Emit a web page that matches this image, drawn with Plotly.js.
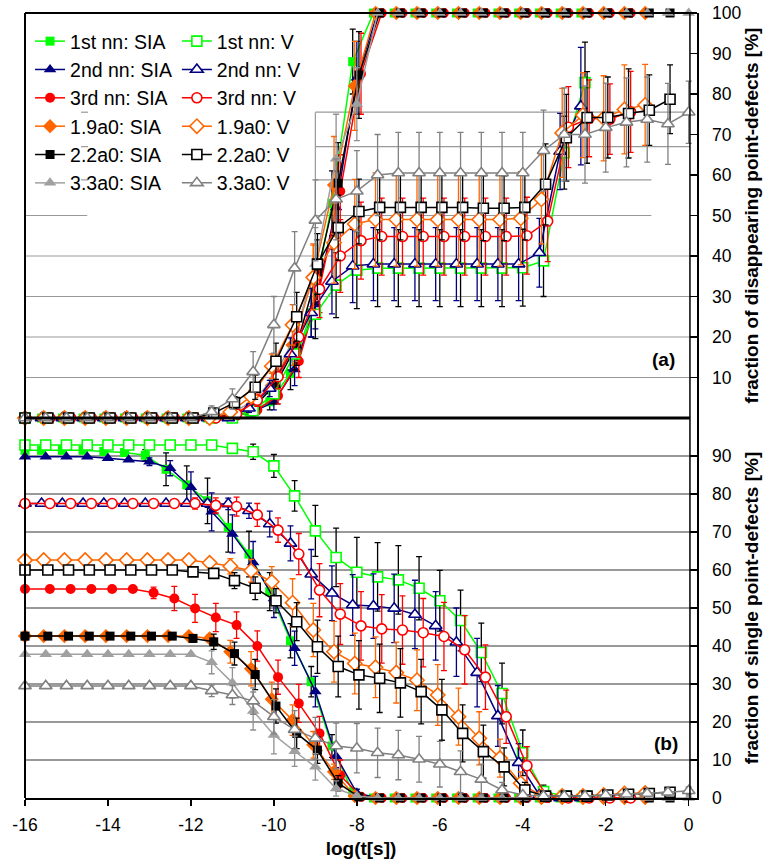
<!DOCTYPE html>
<html><head><meta charset="utf-8">
<script src="https://cdn.plot.ly/plotly-3.0.1.min.js"></script>
<style>html,body{margin:0;padding:0;background:#fff}#chart{width:768px;height:859px}</style>
</head><body><div id="chart"></div>
<script>
// ---------- x positions (log t) for each series group ----------
const X0   = [-16,-15.5,-15,-14.5,-14,-13.5,-13,-12.5,-12,-11.5,-11,-10.5,-10,-9.5,-9,-8.5,-8,-7.5,-7,-6.5,-6,-5.5,-5,-4.5,-4,-3.5,-3,-2.5,-2,-1.5,-1,-0.5,0];
const XM10 = [-16,-15.6,-15.1,-14.6,-14.1,-13.6,-13.1,-12.6,-12.1,-11.6,-11.1,-10.6,-10.1,-9.6,-9.1,-8.6,-8.1,-7.6,-7.1,-6.6,-6.1,-5.6,-5.1,-4.6,-4.1,-3.6,-3.1,-2.6];
const XP10 = [-16,-15.4,-14.9,-14.4,-13.9,-13.4,-12.9,-12.4,-11.9,-11.4,-10.9,-10.4,-9.9,-9.4,-8.9,-8.4,-7.9,-7.4,-6.9,-6.4,-5.9,-5.4,-4.9,-4.4,-3.9,-3.4,-2.9,-2.4,-1.9,-1.4];
const XM05 = [-16,-15.55,-15.05,-14.55,-14.05,-13.55,-13.05,-12.55,-12.05,-11.55,-11.05,-10.55,-10.05,-9.55,-9.05,-8.55,-8.05,-7.55,-7.05,-6.55,-6.05,-5.55,-5.05,-4.55,-4.05,-3.55,-3.05,-2.55,-2.05,-1.55,-1.05];
const XP05 = [-16,-15.45,-14.95,-14.45,-13.95,-13.45,-12.95,-12.45,-11.95,-11.45,-10.95,-10.45,-9.95,-9.45,-8.95,-8.45,-7.95,-7.45,-6.95,-6.45,-5.95,-5.45,-4.95,-4.45,-3.95,-3.45,-2.95,-2.45,-1.95,-1.45,-0.95,-0.45];

const XTICKS = [-16,-14,-12,-10,-8,-6,-4,-2,0];
const XTICKTEXT = ['-16','-14','-12','-10','-8','-6','-4','-2','0'];
const YTICKS_A = [10,20,30,40,50,60,70,80,90,100];
const YTICKS_B = [0,10,20,30,40,50,60,70,80,90];

const NAMES_SIA = ['1st nn: SIA','2nd nn: SIA','3rd nn: SIA','1.9a0: SIA','2.2a0: SIA','3.3a0: SIA'];
const NAMES_V   = ['1st nn: V','2nd nn: V','3rd nn: V','1.9a0: V','2.2a0: V','3.3a0: V'];

// ---------- panel (a): fraction of disappearing point-defects ----------
const A_SIA1 = [0,0,0,0,0,0,0,0,0,0,0.5,1.5,4,11,26,53,88,100,100,100,100,100,100,100,100,100,100,100];
const A_SIA2 = [0,0,0,0,0,0,0,0,0,0,0.5,1.5,4,12,28,52,84,100,100,100,100,100,100,100,100,100,100,100];
const A_SIA3 = [0,0,0,0,0,0,0,0,0,0,0.5,2,5.5,14,32,56,85,100,100,100,100,100,100,100,100,100,100,100,100,100];
const A_SIA4 = [0,0,0,0,0,0,0,0,0,0,1,3,8,18,35,57.5,82,100,100,100,100,100,100,100,100,100,100,100,100,100,100];
const A_SIA5 = [0,0,0,0,0,0,0,0,0,0,1,3,8.5,18,36,58,84.7,100,100,100,100,100,100,100,100,100,100,100,100,100,100,100];
const A_SIA6 = [0,0,0,0,0,0,0,0,0,0.5,1.5,4,10,20,38,64,77.5,100,100,100,100,100,100,100,100,100,100,100,100,100,100,100,100];

const A_V1 = [0,0,0,0,0,0,0,0,0,0,0,1.8,6,15.8,25.6,32.8,36.5,37,37,37,37,37,37,37,37.1,38.8,65.5,82.8];
const A_V2 = [0,0,0,0,0,0,0,0,0,0,0,2.4,7.3,15.8,26,33.7,37.5,38,38,38,38,38,38,38,38,40.8,65.8,77];
const A_V3 = [0,0,0,0,0,0,0,0,0,0,1,4.4,10.2,20,31.8,40,43.8,44.8,44.8,44.8,44.8,44.8,44.8,44.8,45,48.6,71.8,74,73.8,75.6];
const A_V4 = [0,0,0,0,0,0,0,0,0,0,1.5,5.3,12.8,23,34.7,43.3,47.9,49,49,49,49,49,49,49,49.3,54,70.4,74.8,74,76.2,77.3];
const A_V5 = [0,0,0,0,0,0,0,0,0,1.2,3.8,7.6,14,25,38,47,51,52,52,52,52,52,51.8,51.8,52,57.7,69.2,74.2,74.2,75.2,76,78.7];
const A_V6 = [0,0,0,0,0,0,0,0,0,1.5,4.7,11.4,23,37,48.8,54,56,60,60.5,60.5,60.5,60.5,60.5,60.5,60.5,66,70,70,71.7,73,73.7,72.6,75.5];

const AE_SIA1 = [0,0,0,0,0,0,0,0,0,0,0.5,1,2,4,6,8,8,0,0,0,0,0,0,0,0,0,0,0];
const AE_SIA2 = [0,0,0,0,0,0,0,0,0,0,0.5,1,2,4,6,9,9,0,0,0,0,0,0,0,0,0,0,0];
const AE_SIA3 = [0,0,0,0,0,0,0,0,0,0,0.5,1,2,4,6,9,10,0,0,0,0,0,0,0,0,0,0,0,0,0];
const AE_SIA4 = [0,0,0,0,0,0,0,0,0,0,0.5,1.5,3,5,8,12,11,0,0,0,0,0,0,0,0,0,0,0,0,0,0];
const AE_SIA5 = [0,0,0,0,0,0,0,0,0,0,0.5,1.5,3,5,8,10,10.7,0,0,0,0,0,0,0,0,0,0,0,0,0,0,0];
const AE_SIA6 = [0,0,0,0,0,0,0,0,0,0.5,1,2,4,6,9,11,9,0,0,0,0,0,0,0,0,0,0,0,0,0,0,0,0];

const AE_V1 = [0,0,0,0,0,0,0,0,0,0,0,1,2.5,4,6,8,9.5,9.5,9.5,9.5,9.5,9.5,9.5,9.5,9.5,8.8,9,10];
const AE_V2 = [0,0,0,0,0,0,0,0,0,0,0,1,2,4,6,8,9,9,9,9,9,9,9,9,9,8.5,9.4,14.5];
const AE_V3 = [0,0,0,0,0,0,0,0,0,0,0.5,1.5,3,5,7,9,9.5,9.5,9.5,9.5,9.5,9.5,9.5,9.5,9.5,10,10,9.5,8.7,10];
const AE_V4 = [0,0,0,0,0,0,0,0,0,0,0.5,1.5,3,5,8,10,11,11.5,11.5,11.5,11.5,11.5,11.5,11.5,11.5,11,11,10.5,10.5,11,10];
const AE_V5 = [0,0,0,0,0,0,0,0,0,0.5,1.5,3,4.5,6,7.5,8,8,8,8,8,8,8,8,8,8,10,10.7,11.3,10,11,8.7,8.5];
const AE_V6 = [0,0,0,0,0,0,0,0,0,1.5,2.5,5,7,9,10,10,10,10,10,10,10,10,10,10,10,10,11.5,12,11,11,10.5,10,7.7];

// ---------- panel (b): fraction of single point-defects ----------
const B_SIA1 = [91.5,91.5,91.5,91.5,91.2,90.9,90.2,86.5,82.4,78.2,71.2,64.2,54.3,41.4,30.6,13.7,1.5,0,0,0,0,0,0,0,0,0,0,0];
const B_SIA2 = [89.8,89.8,89.8,89.8,89.4,89,88.5,86.8,81.8,75.3,69.5,62,52.5,39.4,28,11,1.3,0,0,0,0,0,0,0,0,0,0,0];
const B_SIA3 = [55,55,55,55,55,55,54,52.5,49.9,47.5,45.5,40,31.8,24.9,17,6,0.3,0,0,0,0,0,0,0,0,0,0,0,0,0];
const B_SIA4 = [42.6,42.6,42.6,42.6,42.6,42.6,42.6,42.6,42.6,42,38.5,34,26,20.5,14,6.9,0.5,0,0,0,0,0,0,0,0,0,0,0,0,0,0];
const B_SIA5 = [42.6,42.6,42.6,42.6,42.6,42.6,42.6,42.6,42,41.1,38,32.5,24.2,17,12.6,3.9,0.3,0,0,0,0,0,0,0,0,0,0,0,0,0,0,0];
const B_SIA6 = [37.8,37.8,37.8,37.8,37.8,37.8,37.8,37.8,37.8,35.7,30.3,22.9,16.6,12.3,8.2,2.5,0.5,0,0,0,0,0,0,0,0,0,0,0,0,0,0,0,0];

const B_V1 = [92.9,92.9,92.9,92.9,92.9,92.9,92.9,92.9,92.9,92.9,92,91.1,87.4,79.5,70.3,63.3,59.4,58.2,57.4,55.2,51.9,46.7,38.3,27.5,11.9,1.7,0.5,0.5];
const B_V2 = [77.5,77.5,77.5,77.5,77.5,77.5,77.5,77.5,77.5,77.5,77.4,75.6,72.1,67,58.9,53.9,50.8,50.5,49.9,48.3,45.3,41,33,21.6,9.3,0.8,0,0];
const B_V3 = [77.5,77.5,77.5,77.5,77.5,77.5,77.5,77.5,77.5,77,76.7,74.5,70.5,64.2,54.7,48.4,45.3,44.5,44.2,43.5,42.5,39,31.8,21.4,8.5,0.3,0,0,0,0];
const B_V4 = [62.6,62.6,62.6,62.6,62.6,62.6,62.6,62.6,62.6,61.9,61,59.8,56.9,51.4,44.2,38.5,35.4,34.4,33,31,27.1,21.4,15.7,10.5,3.9,0.5,0.5,0.5,0.8,1.2,1.3];
const B_V5 = [60,60,60,60,60,60,60,60,59.5,59.1,57.2,55.2,51.9,46.4,39.8,34.6,32.4,31.5,30.3,28,23.2,17,12.2,8.2,2.1,0.5,0.5,0.5,0.8,1,1.2,1.5];
const B_V6 = [29.5,29.5,29.5,29.5,29.5,29.5,29.5,29.5,29.5,28.2,27.1,25.5,21.4,18,15.7,13.7,13.1,11.9,11.3,10.2,8.9,6.9,4.9,2.1,0.8,0.5,0.5,0.5,0.8,1,1.2,1.5,1.9];

const BE_SIA1 = [0,0,0,0,0,0.5,1.5,4.3,5,6,6.5,6,5,4.5,4,3,1,0,0,0,0,0,0,0,0,0,0,0];
const BE_SIA2 = [0,0,0,0,0,0,1,2,4,5,5,5.5,5,4.5,4,3,1,0,0,0,0,0,0,0,0,0,0,0];
const BE_SIA3 = [0,0,0,0,0,0,1.5,3.2,3.7,3.7,3.5,4,4.5,5,4.5,4,0.5,0,0,0,0,0,0,0,0,0,0,0,0,0];
const BE_SIA4 = [0,0,0,0,0,0,0,0,0,1,3,4.5,4.5,4,3.5,2,0.5,0,0,0,0,0,0,0,0,0,0,0,0,0,0];
const BE_SIA5 = [0,0,0,0,0,0,0,0,1,2,3,4,4.5,4,3.5,2,0.3,0,0,0,0,0,0,0,0,0,0,0,0,0,0,0];
const BE_SIA6 = [0,0,0,0,0,0,0,0,0,3,4,5,5,4,3.5,2,0.5,0,0,0,0,0,0,0,0,0,0,0,0,0,0,0,0];

const BE_V1 = [0,0,0,0,0,0,0,0,0,0,1,2,3,4,6.7,7.7,9.2,9,9,8.3,8,8,7.7,8,6,1.7,0,0];
const BE_V2 = [0,0,0,0,0,0,0,0,0,1,1.5,2,3.4,4.6,6.5,7.2,8,8.5,9,9,9,9,9,8,5,0.5,0,0];
const BE_V3 = [0,0,0,0,0,0,0,0,1.5,2,2.5,3,3.2,5.4,7,8,9,9,9,9,9,9,8.5,7,5,0.5,0,0,0,0];
const BE_V4 = [0,0,0,0,0,0,0,0,0,1,2,3,4,6.3,7,8,8,8,8,8,8,7.5,7,5,3,0.5,0.5,0.5,0.5,0.8,0.8];
const BE_V5 = [0,0,0,0,0,0,0,0,0.5,1,2.1,3,3.2,5,7,8,9,9,9,8.5,8,7.5,7,5,2,0.3,0.3,0.3,0.5,0.5,0.8,1];
const BE_V6 = [0,0,0,0,0,0,0,0,0,1.5,2.5,3.5,4.5,5,5.5,6,6.5,6.5,6.5,6,6,5.5,4,2,0.5,0.3,0.3,0.3,0.5,0.5,0.8,0.8,1];

// ---------- styles ----------
const STY_SIA = [
  {x:XM10, line:'#00ff00', fill:'#00ff00', sym:'square', size:9, err:'#000000'},
  {x:X0,   line:'#000080', fill:'#000080', sym:'triangle-up', size:11, err:'#000080'},
  {x:XP10, line:'#ff0000', fill:'#ff0000', sym:'circle', size:10, err:'#ff0000'},
  {x:XM05, line:'#ff6600', fill:'#ff6600', sym:'diamond', size:11, err:'#ff6600'},
  {x:XP05, line:'#000000', fill:'#000000', sym:'square', size:9, err:'#000000'},
  {x:X0,   line:'#a0a0a0', fill:'#a0a0a0', sym:'triangle-up', size:11, err:'#909090'}
];
const STY_V = [
  {x:X0,   line:'#00ff00', sym:'square', size:10, err:'#000000'},
  {x:XM10, line:'#000080', sym:'triangle-up', size:11, err:'#000080'},
  {x:XP10, line:'#ff0000', sym:'circle', size:10, err:'#ff0000'},
  {x:XM05, line:'#ff6600', sym:'diamond', size:11, err:'#ff6600'},
  {x:XP05, line:'#000000', sym:'square', size:10, err:'#000000'},
  {x:X0,   line:'#808080', sym:'triangle-up', size:11, err:'#808080'}
];

function mk(name, st, y, e, open, panel, legendId, show) {
  return {
    type:'scatter', mode:'lines+markers', name:name,
    x: st.x.slice(0, y.length), y: y,
    xaxis: panel === 'a' ? 'x2' : 'x', yaxis: panel === 'a' ? 'y' : 'y2',
    legend: legendId, showlegend: show, cliponaxis:false,
    line:{color: st.line, width:1.5},
    marker:{symbol: st.sym, size: st.size, color: open ? '#ffffff' : st.fill,
            line:{color: st.line, width: open ? 1.6 : 0}},
    error_y:{type:'data', array:e, visible:true, color:st.err, thickness:1.3, width:3}
  };
}

const A_SIA = [A_SIA1,A_SIA2,A_SIA3,A_SIA4,A_SIA5,A_SIA6];
const A_V = [A_V1,A_V2,A_V3,A_V4,A_V5,A_V6];
const AE_SIA = [AE_SIA1,AE_SIA2,AE_SIA3,AE_SIA4,AE_SIA5,AE_SIA6];
const AE_V = [AE_V1,AE_V2,AE_V3,AE_V4,AE_V5,AE_V6];
const B_SIA = [B_SIA1,B_SIA2,B_SIA3,B_SIA4,B_SIA5,B_SIA6];
const B_V = [B_V1,B_V2,B_V3,B_V4,B_V5,B_V6];
const BE_SIA = [BE_SIA1,BE_SIA2,BE_SIA3,BE_SIA4,BE_SIA5,BE_SIA6];
const BE_V = [BE_V1,BE_V2,BE_V3,BE_V4,BE_V5,BE_V6];

const traces = [];
for (let i=0;i<6;i++) traces.push(mk(NAMES_SIA[i], STY_SIA[i], A_SIA[i], AE_SIA[i], false, 'a', 'legend', true));
for (let i=0;i<6;i++) traces.push(mk(NAMES_V[i], STY_V[i], A_V[i], AE_V[i], true, 'a', 'legend2', true));
for (let i=0;i<6;i++) traces.push(mk(NAMES_SIA[i], STY_SIA[i], B_SIA[i], BE_SIA[i], false, 'b', 'legend', false));
for (let i=0;i<6;i++) traces.push(mk(NAMES_V[i], STY_V[i], B_V[i], BE_V[i], true, 'b', 'legend2', false));

const SPLIT = 0.48408;
const GRID = '#999999';
function hline(yref, y, x0, x1, color, width) {
  return {type:'line', layer:'below', xref:'x', yref:yref, x0:x0, x1:x1, y0:y, y1:y, line:{color:color, width:width}};
}
const shapes = [
  hline('y',10,-16,0.03,GRID,1.2), hline('y',20,-16,0.03,GRID,1.2),
  hline('y',30,-16,0.03,GRID,1.2), hline('y',40,-16,0.03,GRID,1.2),
  hline('y',50,-16,-14.5,GRID,1.2), hline('y',50,-9,-0.9,GRID,1.2),
  hline('y',58.8,-9,-0.9,GRID,1.2), hline('y',67,-9,0.03,GRID,1.2), hline('y',75.5,-9,0.03,GRID,1.2),
  hline('y',58.8,-14.65,-14.48,GRID,1.2), hline('y',67,-14.65,-14.48,GRID,1.2), hline('y',75.5,-14.65,-14.48,GRID,1.2),
  {type:'line', layer:'below', xref:'x', yref:'y', x0:-9, x1:-9, y0:50, y1:75.5, line:{color:GRID, width:1.2}},
  {type:'line', xref:'paper', yref:'paper', x0:0, x1:0, y0:0, y1:1, line:{color:'#000', width:2}},
  {type:'line', xref:'paper', yref:'paper', x0:0, x1:1, y0:1, y1:1, line:{color:'#000', width:2}},
  {type:'line', xref:'x', yref:'paper', x0:-16, x1:0.03, y0:SPLIT, y1:SPLIT, line:{color:'#000', width:3}},
  {type:'line', xref:'x', yref:'paper', x0:0.03, x1:0.03, y0:0, y1:1, line:{color:'#000', width:1.5}}
];

const FONT = 'Liberation Sans, Arial, sans-serif';
const layout = {
  width:768, height:859,
  margin:{l:25, r:71, t:13, b:61},
  paper_bgcolor:'#ffffff', plot_bgcolor:'#ffffff',
  font:{family:FONT, color:'#000', size:17.5},
  showlegend:true,
  legend:{x:0.0075, y:0.9886, xanchor:'left', yanchor:'top', bgcolor:'rgba(0,0,0,0)', borderwidth:0,
          font:{family:FONT, size:19.5, color:'#000'}, tracegroupgap:0},
  legend2:{x:0.226, y:0.9886, xanchor:'left', yanchor:'top', bgcolor:'rgba(0,0,0,0)', borderwidth:0,
          font:{family:FONT, size:19.5, color:'#000'}, tracegroupgap:0},
  xaxis:{domain:[0,1], anchor:'y2', range:[-16,0.2], tickmode:'array', tickvals:XTICKS, ticktext:XTICKTEXT,
         ticks:'outside', ticklen:6, tickwidth:1.5, tickcolor:'#000', ticklabelstandoff:4,
         showline:true, linewidth:2, linecolor:'#000', showgrid:false, zeroline:false,
         tickfont:{family:FONT, size:17.5},
         title:{text:'log(t[s])', font:{family:FONT, size:19, weight:700}, standoff:8}},
  xaxis2:{domain:[0,1], anchor:'y', matches:'x', range:[-16,0.2], showticklabels:false, ticks:'',
          showline:false, showgrid:false, zeroline:false},
  yaxis:{domain:[SPLIT,1], anchor:'x2', side:'right', range:[0,100], tickmode:'array', tickvals:YTICKS_A,
         ticks:'inside', ticklen:7, tickwidth:1.5, tickcolor:'#000', showline:true, linewidth:1.5, linecolor:'#000',
         showgrid:false, zeroline:false, tickfont:{family:FONT, size:17.5}, ticklabelstandoff:10,
         title:{text:'fraction of disappearing point-defects [%]', font:{family:FONT, size:19, weight:700}, standoff:4}},
  yaxis2:{domain:[0,SPLIT], anchor:'x', side:'right', range:[0,100], tickmode:'array', tickvals:YTICKS_B,
         ticks:'inside', ticklen:7, tickwidth:1.5, tickcolor:'#000', showline:true, linewidth:1.5, linecolor:'#000',
         showgrid:true, gridcolor:GRID, gridwidth:1.2, zeroline:false, tickfont:{family:FONT, size:17.5}, ticklabelstandoff:10,
         title:{text:'fraction of single point-defects [%]', font:{family:FONT, size:19, weight:700}, standoff:14}},
  shapes:shapes,
  annotations:[
    {text:'(a)', xref:'paper', yref:'paper', x:0.970, y:0.558, xanchor:'right', yanchor:'middle', showarrow:false,
     font:{family:FONT, size:19, weight:700}},
    {text:'(b)', xref:'paper', yref:'paper', x:0.975, y:0.070, xanchor:'right', yanchor:'middle', showarrow:false,
     font:{family:FONT, size:19, weight:700}}
  ]
};

Plotly.newPlot('chart', traces, layout, {displayModeBar:false, staticPlot:true});
</script></body></html>
